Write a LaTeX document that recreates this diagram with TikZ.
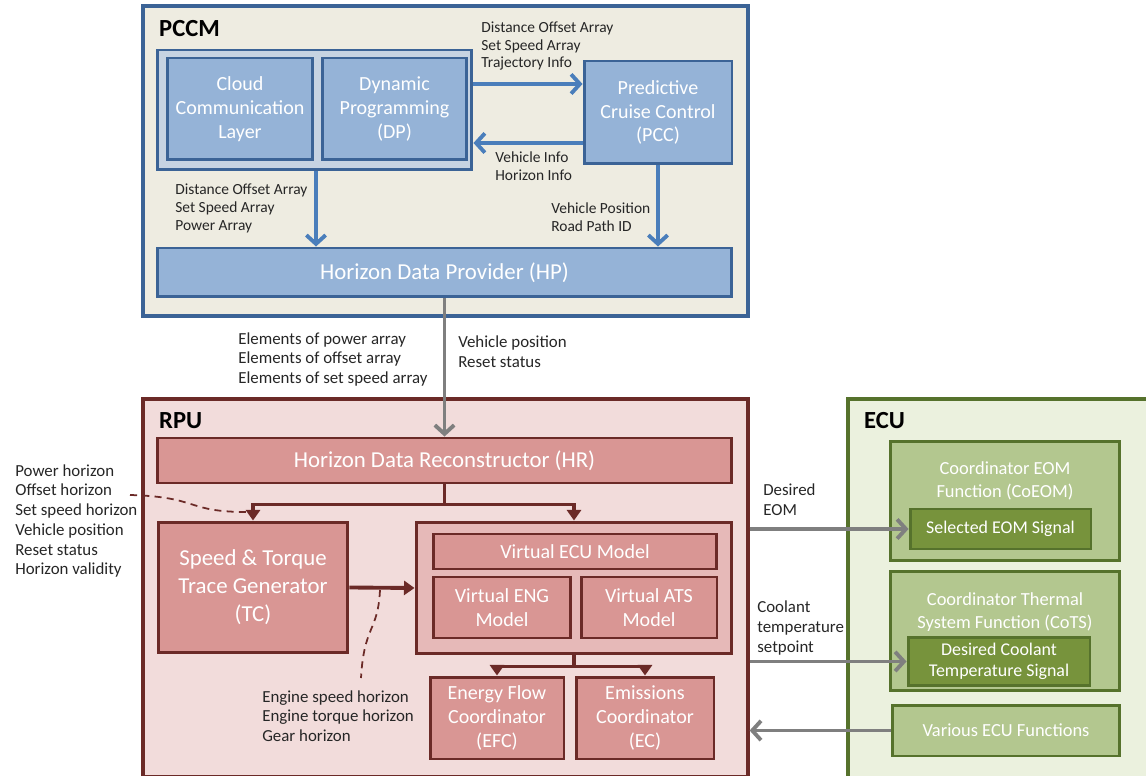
\documentclass[tikz,border=0pt]{standalone}
\usepackage{fontspec}
\setmainfont{Carlito}
\usetikzlibrary{arrows.meta, positioning}
\definecolor{pccmbg}{HTML}{EEECE1}
\definecolor{pccmline}{HTML}{3B6396}
\definecolor{pblue}{HTML}{95B3D7}
\definecolor{pgroup}{HTML}{C6D3E2}
\definecolor{parrow}{HTML}{4A7EBB}
\definecolor{rpubg}{HTML}{F2DCDB}
\definecolor{rpuline}{HTML}{6B2A27}
\definecolor{rred}{HTML}{D99694}
\definecolor{rgroup}{HTML}{E6B9B8}
\definecolor{ecubg}{HTML}{EBF1DE}
\definecolor{eculine}{HTML}{56722C}
\definecolor{ggreen}{HTML}{B3C78F}
\definecolor{gdark}{HTML}{77933C}
\definecolor{flowgray}{HTML}{7F7F7F}

\begin{document}
\begin{tikzpicture}[x=0.02cm, y=-0.02cm,
    unitbox/.style={draw=#1, line width=1.9pt},
    pbox/.style={draw=pccmline, fill=pblue, line width=1.7pt, text=white, align=center, font=\fontsize{11.4}{13.6}\selectfont},
    rbox/.style={draw=rpuline, fill=rred, line width=1.7pt, text=white, align=center, font=\fontsize{11.4}{13.6}\selectfont},
    gbox/.style={draw=eculine, fill=#1, line width=1.7pt, text=white, align=center, font=\fontsize{10.2}{12}\selectfont},
    gtitle/.style={text=white, align=center, font=\fontsize{10.5}{13}\selectfont},
    unittitle/.style={anchor=west, font=\fontsize{14}{16}\selectfont\bfseries},
    lbl/.style={anchor=west, align=left, inner sep=0pt, text=black!85, font=\fontsize{9.6}{11.2}\selectfont},
    slbl/.style={lbl, font=\fontsize{8.8}{10.2}\selectfont},
    barrow/.style={draw=parrow, line width=2.2pt, -{Straight Barb[length=5pt, width=11pt]}},
    rline/.style={draw=rpuline, line width=2.2pt},
    rarrow/.style={rline, -{Triangle[length=6pt, width=8pt]}},
    garrow/.style={draw=flowgray, line width=2.2pt, -{Straight Barb[length=5pt, width=11pt]}},
    pointer/.style={draw=rpuline, line width=1pt, dash pattern=on 4pt off 3pt},
]
\useasboundingbox (0,0) rectangle (1146,776);

\node[unitbox=pccmline, fill=pccmbg, minimum width=12.1cm, minimum height=6.2cm] (pccm) at (445.5,161) {};
\node[unittitle] at (153,29) {PCCM};
\node[draw=pccmline, fill=pgroup, line width=1.7pt, minimum width=6.3cm, minimum height=2.4cm] (dpgrp) at (314.5,110) {};
\node[pbox, minimum width=2.92cm, minimum height=2.04cm] (cloud) at (240,109) {Cloud\\Communication\\Layer};
\node[pbox, minimum width=2.9cm, minimum height=2.04cm] (dp) at (394.5,109) {Dynamic\\Programming\\(DP)};
\node[pbox, minimum width=2.96cm, minimum height=2.06cm] (pcc) at (658,112.5) {Predictive\\Cruise Control\\(PCC)};
\node[pbox, minimum width=11.5cm, minimum height=0.98cm, font=\fontsize{13}{15}\selectfont] (hp) at (444.5,272.5) {Horizon Data Provider (HP)};

\draw[barrow] (dpgrp.east |- 0,84) -- (pcc.west |- 0,84);
\draw[barrow] (pcc.west |- 0,143) -- (dpgrp.east |- 0,143);
\draw[barrow] (dpgrp.south -| 316,0) -- (hp.north -| 316,0);
\draw[barrow] (pcc.south) -- (hp.north -| pcc.south);
\node[slbl] (dpout) at (481,46) {Distance Offset Array\\Set Speed Array\\Trajectory Info};
\node[slbl] (pccout) at (495,166) {Vehicle Info\\Horizon Info};
\node[slbl] (grpout) at (175,208) {Distance Offset Array\\Set Speed Array\\Power Array};
\node[slbl] (pccdown) at (551,217) {Vehicle Position\\Road Path ID};

\node[unitbox=rpuline, fill=rpubg, minimum width=12.1cm, minimum height=7.56cm] (rpu) at (445.5,588) {};
\node[unittitle] at (153,421) {RPU};
\node[rbox, minimum width=11.5cm, minimum height=0.9cm, font=\fontsize{13}{15}\selectfont] (hr) at (444.5,460.5) {Horizon Data Reconstructor (HR)};
\node[rbox, minimum width=3.8cm, minimum height=2.62cm, font=\fontsize{13}{15.9}\selectfont] (tc) at (253,587.5) {Speed \& Torque\\Trace Generator\\(TC)};
\node[draw=rpuline, fill=rgroup, line width=1.7pt, minimum width=6.32cm, minimum height=2.64cm] (vgrp) at (574,588) {};
\node[rbox, minimum width=5.68cm, minimum height=0.7cm] (vecu) at (575,551.5) {Virtual ECU Model};
\node[rbox, minimum width=2.76cm, minimum height=1.22cm] (veng) at (502,607.5) {Virtual ENG\\Model};
\node[rbox, minimum width=2.72cm, minimum height=1.22cm] (vats) at (649,607.5) {Virtual ATS\\Model};
\node[rbox, minimum width=2.68cm, minimum height=1.64cm] (efc) at (497,718) {Energy Flow\\Coordinator\\(EFC)};
\node[rbox, minimum width=2.76cm, minimum height=1.64cm] (ec) at (645,718) {Emissions\\Coordinator\\(EC)};

\draw[garrow] (hp.south) -- (hr.north -| hp.south);
\node[lbl] (hpleft) at (238,359.5) {Elements of power array\\Elements of offset array\\Elements of set speed array};
\node[lbl] (hpright) at (458,351.5) {Vehicle position\\Reset status};

\draw[rline] (hr.south) -- ++(0,20) coordinate (hrjoin);
\draw[rarrow] (hrjoin) -| (tc.north);
\draw[rarrow] (hrjoin) -| (vgrp.north);
\draw[rarrow] (tc.east) -- (vgrp.west);
\draw[rline] (vgrp.south) -- ++(0,11) coordinate (vjoin);
\draw[rarrow] (vjoin) -| (efc.north);
\draw[rarrow] (vjoin) -| (ec.north);

\node[lbl] (horizons) at (15,521) {Power horizon\\Offset horizon\\Set speed horizon\\Vehicle position\\Reset status\\Horizon validity};
\node[lbl] (traces) at (262,716) {Engine speed horizon\\Engine torque horizon\\Gear horizon};
\coordinate (offsetend) at (130,495);
\coordinate (tcin) at (247,512);
\coordinate (tcout) at (380,590);
\coordinate (tracetip) at (361,678);
\draw[pointer] (offsetend) .. controls (200,497) and (185,512) .. (tcin);
\draw[pointer] (tcout) .. controls (378,632) and (364,625) .. (tracetip);

\node[unitbox=eculine, fill=ecubg, minimum width=6.24cm, minimum height=7.82cm] (ecu) at (1004,594.5) {};
\node[unittitle] at (858,421) {ECU};
\node[gbox=ggreen, minimum width=4.6cm, minimum height=2.4cm] (coeom) at (1005,501) {};
\node[gtitle] (coeomtxt) at (1005,480.5) {Coordinator EOM\\Function (CoEOM)};
\node[gbox=gdark, minimum width=3.62cm, minimum height=0.8cm] (seleom) at (1000.5,529) {Selected EOM Signal};
\node[gbox=ggreen, minimum width=4.6cm, minimum height=2.4cm] (cots) at (1005,631) {};
\node[gtitle] (cotstxt) at (1005,612) {Coordinator Thermal\\System Function (CoTS)};
\node[gbox=gdark, minimum width=3.64cm, minimum height=0.9cm] (dcts) at (999,661.5) {Desired Coolant\\Temperature Signal};
\node[gbox=ggreen, minimum width=4.56cm, minimum height=1.02cm, font=\fontsize{10.5}{12}\selectfont] (various) at (1006,730.5) {Various ECU Functions};

\draw[garrow] (rpu.east |- seleom.west) -- (seleom.west);
\draw[garrow] (rpu.east |- dcts.west) -- (dcts.west);
\draw[garrow] (various.west) -- (rpu.east |- various.west);
\node[lbl] (eomlbl) at (763,500) {Desired\\EOM};
\node[lbl] (coollbl) at (757,628) {Coolant\\temperature\\setpoint};
\end{tikzpicture}
\end{document}
